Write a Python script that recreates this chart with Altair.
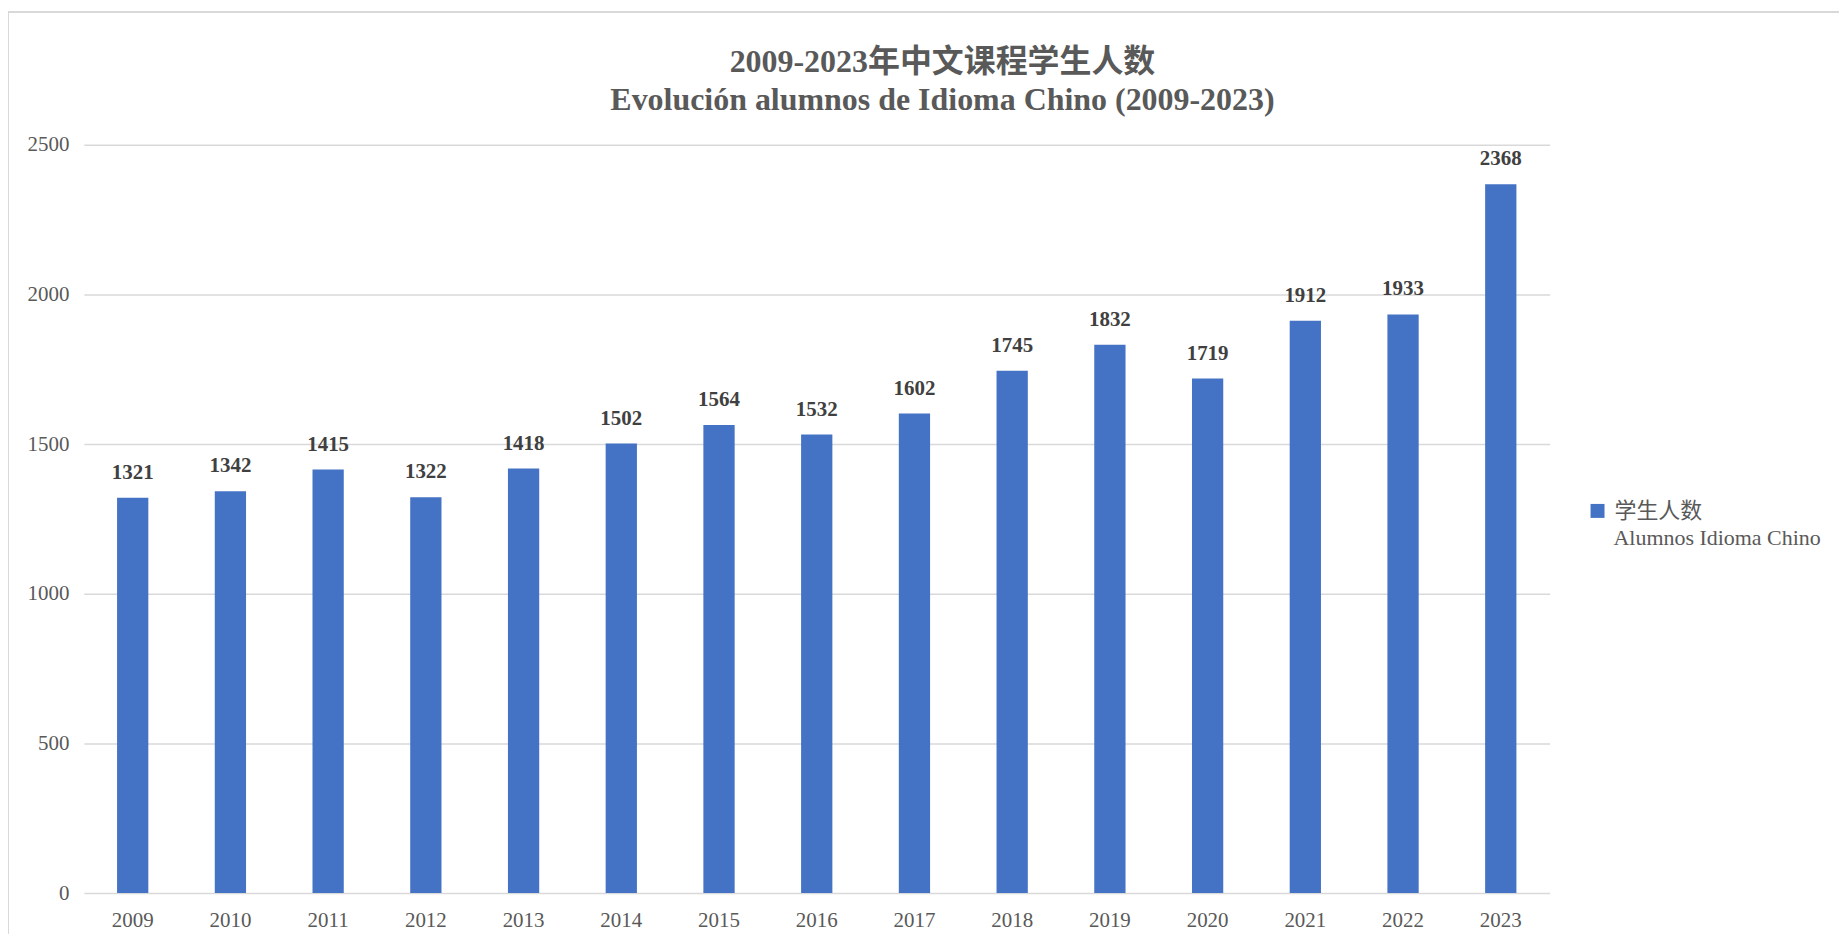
import altair as alt
import pandas as pd

years = ["2009", "2010", "2011", "2012", "2013", "2014", "2015", "2016",
         "2017", "2018", "2019", "2020", "2021", "2022", "2023"]
students = [1321, 1342, 1415, 1322, 1418, 1502, 1564, 1532,
            1602, 1745, 1832, 1719, 1912, 1933, 2368]
series_cn = "学生人数"
series_es = "Alumnos Idioma Chino"
title_lines = ["2009-2023年中文课程学生人数", "Evolución alumnos de Idioma Chino (2009-2023)"]
y_ticks = [0, 500, 1000, 1500, 2000, 2500]

df = pd.DataFrame({"year": years, "value": students, "series": [series_cn] * len(years)})

FONT = "Liberation Serif, Noto Sans CJK SC"
GRAY = "#595959"

base = alt.Chart(df)

bars = base.mark_bar(color="#4472C4").encode(
    x=alt.X("year:N", sort=years, title=None,
            scale=alt.Scale(paddingInner=0.68, paddingOuter=0.34),
            axis=alt.Axis(labelAngle=0, labelFontSize=21, labelColor=GRAY, labelFont=FONT,
                          ticks=False, domain=False, labelPadding=16, grid=False)),
    y=alt.Y("value:Q", title=None,
            scale=alt.Scale(domain=[0, 2500], nice=False),
            axis=alt.Axis(values=y_ticks, format="d", labelFontSize=21, labelColor=GRAY,
                          labelFont=FONT, ticks=False, domain=False, labelPadding=15,
                          gridColor="#d9d9d9", gridWidth=1.5)),
    color=alt.Color("series:N", title=series_es,
                    scale=alt.Scale(range=["#4472C4"]),
                    legend=alt.Legend(orient="none", legendX=1533, legendY=356,
                                      symbolType="square", symbolSize=196,
                                      symbolStrokeWidth=0, symbolOffset=-27,
                                      labelFontSize=22, labelColor=GRAY, labelFont=FONT,
                                      labelOffset=6, labelLimit=400, padding=0,
                                      titleOrient="bottom", titleAnchor="start",
                                      titleAlign="left", titleFont=FONT, titleFontSize=22,
                                      titleFontWeight="normal", titleColor=GRAY,
                                      titlePadding=6, titleLimit=400)),
)

labels = base.mark_text(font=FONT, fontSize=21, fontWeight="bold", color="#404040",
                        baseline="alphabetic", dy=-19).encode(
    x=alt.X("year:N", sort=years),
    y=alt.Y("value:Q"),
    text=alt.Text("value:Q"),
)

frame = alt.Chart(pd.DataFrame({"a": [0]})).mark_rect(
    fill=None, stroke="#d9d9d9", strokeWidth=2
).encode(x=alt.value(-76), x2=alt.value(2000), y=alt.value(-133), y2=alt.value(1000))

chart = alt.layer(frame, bars, labels).properties(
    width=1469, height=750,
    padding={"left": 76, "top": 136, "right": 290, "bottom": 40},
    autosize=alt.AutoSizeParams(type="none"),
    title=alt.TitleParams(text=title_lines, font=FONT, fontSize=32, fontWeight="bold",
                          color=GRAY, anchor="middle", dx=126, dy=134, lineHeight=38,
                          offset=28),
).configure_view(stroke=None)

chart.save("out.html", embed_options={"renderer": "svg", "actions": False})
